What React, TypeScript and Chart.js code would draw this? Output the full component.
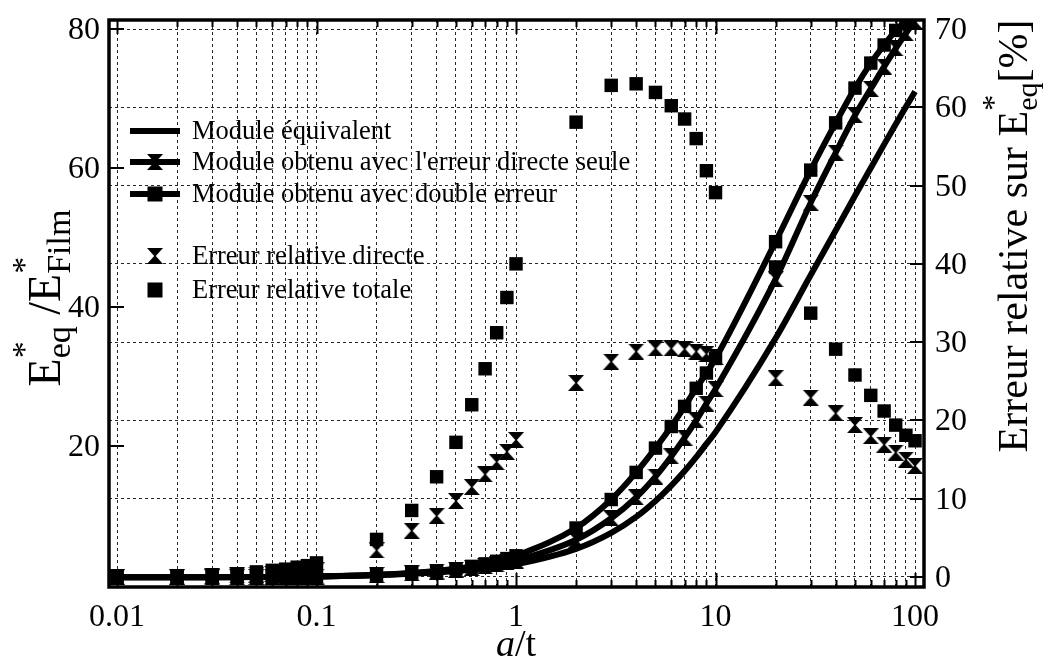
import React, { useEffect, useRef } from 'react';
import { Chart, registerables } from 'chart.js';

Chart.register(...registerables);

// ---------- DATA ----------
const xValues = [
  0.01, 0.02, 0.03, 0.04, 0.05, 0.06, 0.07, 0.08, 0.09,
  0.1, 0.2, 0.3, 0.4, 0.5, 0.6, 0.7, 0.8, 0.9,
  1, 2, 3, 4, 5, 6, 7, 8, 9,
  10, 20, 30, 40, 50, 60, 70, 80, 90,
  100,
];

// E*eq / E*Film (left axis)
const moduleEquivalent = [
  1.10, 1.11, 1.12, 1.13, 1.14, 1.15, 1.16, 1.17, 1.18,
  1.2, 1.4, 1.6, 1.8, 2.0, 2.2, 2.4, 2.6, 2.8,
  3.0, 5.2, 7.5, 9.8, 12.1, 14.3, 16.4, 18.4, 20.3,
  22, 35.5, 44.6, 51, 56, 60, 63.4, 66.3, 68.8,
  71,
];
const moduleDirect = [
  1.10, 1.11, 1.12, 1.13, 1.15, 1.16, 1.17, 1.18, 1.19,
  1.21, 1.45, 1.69, 1.94, 2.19, 2.45, 2.71, 2.98, 3.25,
  3.52, 6.5, 9.6, 12.6, 15.6, 18.5, 21.2, 23.7, 26.1,
  28.2, 44, 55, 62.2, 67.6, 71.4, 74.6, 77.2, 79.4,
  81.1,
];
const moduleDouble = [
  1.10, 1.11, 1.13, 1.14, 1.15, 1.16, 1.18, 1.19, 1.20,
  1.22, 1.47, 1.74, 2.03, 2.34, 2.68, 3.04, 3.41, 3.8,
  4.2, 8.2, 12.3, 16.2, 19.7, 22.8, 25.7, 28.3, 30.5,
  32.6, 49.4, 59.7, 66.5, 71.5, 75.1, 77.7, 79.8, 81.2,
  83,
];

// Relative errors [%] (right axis)
const errDirect = [
  0.02, 0.05, 0.1, 0.2, 0.3, 0.4, 0.5, 0.6, 0.7,
  0.85, 3.4, 5.9, 7.8, 9.7, 11.5, 13.1, 14.7, 16.0,
  17.5, 24.8, 27.5, 28.8, 29.2, 29.2, 29.1, 28.8, 28.5,
  28.1, 25.4, 22.9, 20.9, 19.4, 18.0, 16.9, 15.9, 15.0,
  14.2,
];
const errTotal = [
  0.05, 0.1, 0.2, 0.4, 0.65, 0.85, 1.0, 1.25, 1.45,
  1.8, 4.8, 8.5, 12.8, 17.2, 22.0, 26.6, 31.2, 35.7,
  40.0, 58.1, 62.8, 63.0, 61.9, 60.2, 58.5, 56.0, 51.9,
  49.1, 39.6, 33.7, 29.1, 25.8, 23.2, 21.2, 19.4, 18.1,
  17.4,
];

const xTickValues = xValues;
const xLabelValues = [0.01, 0.1, 1, 10, 100];
const xLabelTexts = ['0.01', '0.1', '1', '10', '100'];
const leftTicks = [20, 40, 60, 80];
const rightTicks = [0, 10, 20, 30, 40, 50, 60, 70];

const labelEquivalent = 'Module équivalent';
const labelDirect = "Module obtenu avec l'erreur directe seule";
const labelDouble = 'Module obtenu avec double erreur';
const labelErrDirect = 'Erreur relative directe';
const labelErrTotal = 'Erreur relative totale';

// ---------- HELPERS ----------
const FAM = '"Liberation Serif", "DejaVu Serif", "Times New Roman", serif';
const fnt = (s: number, it?: boolean) => `${it ? 'italic ' : ''}${s}px ${FAM}`;
const isPow10 = (v: number) => Math.abs(Math.log10(v) - Math.round(Math.log10(v))) < 1e-6;

function makeHourglass(): HTMLCanvasElement {
  const c = document.createElement('canvas');
  c.width = 16;
  c.height = 16;
  const g = c.getContext('2d')!;
  g.fillStyle = '#000';
  g.beginPath();
  g.moveTo(0, 0);
  g.lineTo(16, 0);
  g.lineTo(8.8, 8);
  g.lineTo(16, 16);
  g.lineTo(0, 16);
  g.lineTo(7.2, 8);
  g.closePath();
  g.fill();
  return c;
}

type Seg = { t: string; sup?: string; sub?: string; italic?: boolean };

function drawRich(
  ctx: CanvasRenderingContext2D, segs: Seg[], cx: number, cy: number, rot: number,
  size: number, supSize: number, subSize: number, supDy: number, subDy: number,
) {
  ctx.save();
  ctx.translate(cx, cy);
  ctx.rotate(rot);
  ctx.fillStyle = '#000';
  ctx.textBaseline = 'alphabetic';
  ctx.textAlign = 'left';
  const w = segs.map((s) => {
    ctx.font = fnt(size, s.italic);
    const m = ctx.measureText(s.t).width;
    ctx.font = fnt(supSize);
    const a = s.sup ? ctx.measureText(s.sup).width : 0;
    ctx.font = fnt(subSize);
    const b = s.sub ? ctx.measureText(s.sub).width : 0;
    return { m, e: Math.max(a, b) };
  });
  const total = w.reduce((acc, v) => acc + v.m + v.e, 0);
  let x = -total / 2;
  segs.forEach((s, i) => {
    ctx.font = fnt(size, s.italic);
    ctx.fillText(s.t, x, 0);
    x += w[i].m;
    if (s.sup) { ctx.font = fnt(supSize); ctx.fillText(s.sup, x, supDy); }
    if (s.sub) { ctx.font = fnt(subSize); ctx.fillText(s.sub, x, subDy); }
    x += w[i].e;
  });
  ctx.restore();
}

export default function App() {
  const ref = useRef<HTMLCanvasElement>(null);

  useEffect(() => {
    if (!ref.current) return;
    const hour = makeHourglass();
    const pts = (arr: number[]) => xValues.map((x, i) => ({ x, y: arr[i] }));

    const decor = {
      id: 'decor',
      afterDraw(chart: any) {
        const { ctx, chartArea: a, scales } = chart;
        const xs = scales.x, yl = scales.y, yr = scales.y2;
        ctx.save();
        ctx.strokeStyle = '#000';
        ctx.fillStyle = '#000';
        ctx.lineWidth = 2;
        const ln = (x1: number, y1: number, x2: number, y2: number) => {
          ctx.beginPath(); ctx.moveTo(x1, y1); ctx.lineTo(x2, y2); ctx.stroke();
        };
        xTickValues.forEach((v) => {
          const px = Math.round(xs.getPixelForValue(v)) + 0.5;
          const len = isPow10(v) ? 14 : 7;
          ln(px, a.bottom, px, a.bottom - len);
          ln(px, a.top, px, a.top + len);
        });
        leftTicks.forEach((v) => {
          const py = Math.round(yl.getPixelForValue(v));
          ln(a.left, py, a.left + 15, py);
        });
        rightTicks.forEach((v) => {
          const py = Math.round(yr.getPixelForValue(v));
          ln(a.right - 14, py, a.right, py);
        });
        ctx.lineWidth = 3.5;
        ctx.strokeRect(a.left, a.top, a.right - a.left, a.bottom - a.top);

        // tick labels
        ctx.font = fnt(32);
        ctx.textBaseline = 'alphabetic';
        ctx.textAlign = 'right';
        leftTicks.forEach((v) => {
          ctx.fillText(String(v), a.left - 9, yl.getPixelForValue(v) + 10);
        });
        ctx.textAlign = 'left';
        rightTicks.forEach((v) => {
          ctx.fillText(String(v), a.right + 11, yr.getPixelForValue(v) + 10);
        });
        ctx.textAlign = 'center';
        xLabelValues.forEach((v, i) => {
          ctx.fillText(xLabelTexts[i], xs.getPixelForValue(v), a.bottom + 39);
        });

        // legend
        const ds = chart.data.datasets;
        const byLabel = (l: string) => ds.find((d: any) => d.label === l);
        const items = [
          { d: byLabel(labelEquivalent), y: 131, line: true, mk: '' },
          { d: byLabel(labelDirect), y: 162, line: true, mk: 'h' },
          { d: byLabel(labelDouble), y: 194, line: true, mk: 's' },
          { d: byLabel(labelErrDirect), y: 256, line: false, mk: 'h' },
          { d: byLabel(labelErrTotal), y: 290, line: false, mk: 's' },
        ];
        ctx.textBaseline = 'middle';
        ctx.textAlign = 'left';
        ctx.font = fnt(26.5);
        items.forEach((it) => {
          if (it.line) {
            ctx.lineWidth = 6;
            ln(130, it.y, 180, it.y);
          }
          if (it.mk === 'h') ctx.drawImage(hour, 155 - 8, it.y - 8);
          if (it.mk === 's') ctx.fillRect(155 - 7.5, it.y - 7.5, 15, 15);
          ctx.fillText(it.d.label, 192, it.y + 1);
        });

        // axis titles
        drawRich(ctx, [{ t: 'E', sup: '*', sub: 'eq' }, { t: ' /E', sup: '*', sub: 'Film' }],
          60, 298, -Math.PI / 2, 46, 34, 34, -25, 10);
        drawRich(ctx, [{ t: 'Erreur relative sur E', sup: '*', sub: 'eq' }, { t: '[%]' }],
          1027, 236, -Math.PI / 2, 42, 32, 30, -23, 10);
        drawRich(ctx, [{ t: 'a', italic: true }, { t: '/t' }],
          516, 656, 0, 38, 30, 28, -20, 8);
        ctx.restore();
      },
    };

    const chart = new Chart(ref.current, {
      type: 'line',
      data: {
        datasets: [
          {
            label: labelErrTotal, data: pts(errTotal), yAxisID: 'y2', showLine: false,
            pointStyle: 'rect', pointRadius: 9.5, pointBackgroundColor: '#000', pointBorderColor: '#000', pointBorderWidth: 0,
          },
          {
            label: labelErrDirect, data: pts(errDirect), yAxisID: 'y2', showLine: false,
            pointStyle: hour, pointRadius: 8,
          },
          {
            label: labelDouble, data: pts(moduleDouble), yAxisID: 'y', borderColor: '#000', borderWidth: 6,
            pointStyle: 'rect', pointRadius: 9.5, pointBackgroundColor: '#000', pointBorderColor: '#000', pointBorderWidth: 0,
            cubicInterpolationMode: 'monotone',
          },
          {
            label: labelDirect, data: pts(moduleDirect), yAxisID: 'y', borderColor: '#000', borderWidth: 6,
            pointStyle: hour, pointRadius: 8, cubicInterpolationMode: 'monotone',
          },
          {
            label: labelEquivalent, data: pts(moduleEquivalent), yAxisID: 'y', borderColor: '#000', borderWidth: 6,
            pointRadius: 0, cubicInterpolationMode: 'monotone',
          },
        ],
      },
      options: {
        animation: false,
        responsive: false,
        layout: { padding: { top: 20, left: 0, right: 0, bottom: 0 } },
        plugins: { legend: { display: false }, tooltip: { enabled: false } },
        scales: {
          x: {
            type: 'logarithmic',
            position: 'bottom',
            min: 0.009118,
            max: 110.9,
            afterBuildTicks: (s: any) => { s.ticks = xTickValues.map((v) => ({ value: v })); },
            afterFit: (s: any) => { s.height = 75; },
            ticks: { display: false, autoSkip: false, maxRotation: 0, minRotation: 0 },
            grid: { color: 'rgba(0,0,0,0.85)', lineWidth: 1, drawTicks: false },
            border: { display: false, dash: [3, 3] },
          },
          y: {
            type: 'linear',
            position: 'left',
            min: -0.29,
            max: 81.3,
            afterBuildTicks: (s: any) => { s.ticks = leftTicks.map((v) => ({ value: v })); },
            afterFit: (s: any) => { s.width = 109; },
            ticks: { display: false },
            grid: { display: false, drawTicks: false },
            border: { display: false },
          },
          y2: {
            type: 'linear',
            position: 'right',
            min: -1.28,
            max: 71.15,
            afterBuildTicks: (s: any) => { s.ticks = rightTicks.map((v) => ({ value: v })); },
            afterFit: (s: any) => { s.width = 123; },
            ticks: { display: false },
            grid: { color: 'rgba(0,0,0,0.85)', lineWidth: 1, drawTicks: false },
            border: { display: false, dash: [3, 3] },
          },
        },
      },
      plugins: [decor],
    } as any);

    return () => chart.destroy();
  }, []);

  return (
    <div style={{ position: 'absolute', left: 0, top: 0, width: 1047, height: 662, background: '#fff' }}>
      <canvas ref={ref} width={1047} height={662} style={{ display: 'block', width: 1047, height: 662 }} />
    </div>
  );
}
